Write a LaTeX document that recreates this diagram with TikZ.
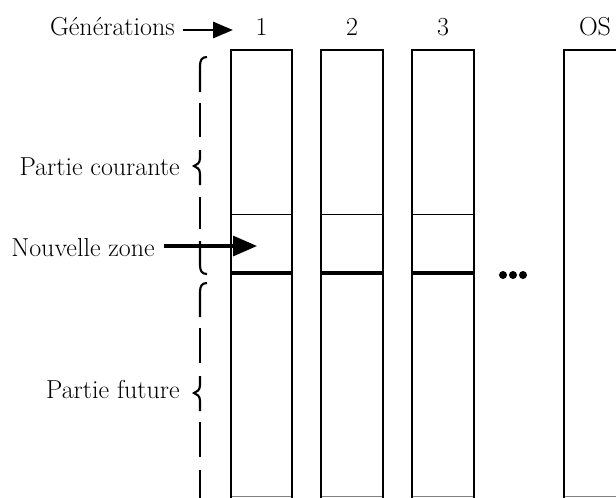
\documentclass[tikz,border=0pt]{standalone}
\usetikzlibrary{arrows.meta}
\begin{document}
\begin{tikzpicture}[x=0.75pt,y=-0.75pt,
  lbl/.style={font=\fontsize{19.5}{22}\selectfont, inner sep=0pt},
  colbox/.style={line width=1.5pt},
  thinsep/.style={line width=0.75pt},
  thicksep/.style={line width=2.3pt},
  bottomedge/.style={line width=0.75pt, gray},
  bracestroke/.style={line width=1.6pt},
  bigarrow/.style={line width=2.4pt, -{Triangle[length=18pt,width=15pt]}},
  genarrow/.style={line width=2.2pt, -{Triangle[length=15pt,width=12pt]}}]
\useasboundingbox (0,0) rectangle (616,497);
% columns
\draw[bottomedge] (231,496) -- (292,496) (321,496) -- (383,496) (412,496) -- (474,496) (564,496) -- (630,496);
\draw[colbox] (231,499) -- (231,50) -- (292,50) -- (292,499);
\draw[colbox] (321,499) -- (321,50) -- (383,50) -- (383,499);
\draw[colbox] (412,499) -- (412,50) -- (474,50) -- (474,499);
\draw[colbox] (564,499) -- (564,50) -- (630,50);
% separators
\draw[thinsep] (231,214) -- (292,214) (321,214) -- (383,214) (412,214) -- (474,214);
\draw[thicksep] (231,273) -- (292,273) (321,273) -- (383,273) (412,273) -- (474,273);
% dots
\foreach \dx in {503,513,523} \fill (\dx,275) circle[radius=4];
% headers
\node[lbl, anchor=base] (c1) at (261.5,35) {1};
\node[lbl, anchor=base] (c2) at (352,35) {2};
\node[lbl, anchor=base] (c3) at (443,35) {3};
\node[lbl, anchor=base] (cos) at (595,35) {OS};
\node[lbl, anchor=base east] (gen) at (175,35) {Générations};
\coordinate (genend) at (233,30);
\draw[genarrow, shorten <=6pt] (gen.east |- genend) -- (genend);
% left labels
\node[lbl, anchor=base east] (pc) at (180,175) {Partie courante};
\node[lbl, anchor=base east] (pf) at (180,398) {Partie future};
\node[lbl, anchor=base east] (nz) at (155,256) {Nouvelle zone};
\coordinate (nzend) at (257,246);
\draw[bigarrow, shorten <=7pt] (nz.east |- nzend) -- (nzend);
% first brace
\draw[bracestroke] (207,57) .. controls (202,57) and (200,60) .. (200,66) -- (200,92);
\draw[bracestroke] (200,103) -- (200,137);
\draw[bracestroke] (200,150) -- (200,158) .. controls (200,163) and (197,165) .. (194,166)
   .. controls (197,167) and (200,169) .. (200,174) -- (200,185);
\draw[bracestroke] (200,197) -- (200,229);
\draw[bracestroke] (200,241) -- (200,265) .. controls (200,271) and (202,274) .. (207,274);
% second brace
\draw[bracestroke] (207,283) .. controls (202,283) and (200,286) .. (200,292) -- (200,317);
\draw[bracestroke] (200,328) -- (200,363);
\draw[bracestroke] (200,376) -- (200,385) .. controls (200,390) and (197,392) .. (194,393)
   .. controls (197,394) and (200,396) .. (200,401) -- (200,411);
\draw[bracestroke] (200,422) -- (200,457);
\draw[bracestroke] (200,470) -- (200,499);
\end{tikzpicture}
\end{document}
